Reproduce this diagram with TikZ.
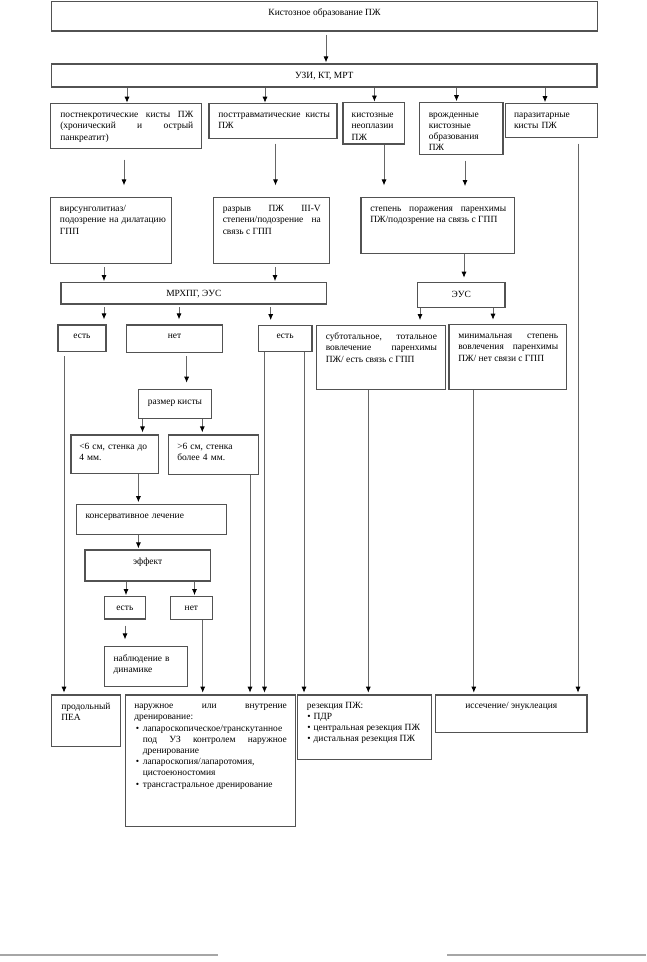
\documentclass[tikz,border=0pt]{standalone}
\usepackage{fontspec}
\setmainfont{Liberation Serif}
\usetikzlibrary{arrows.meta,fit}
\setlength{\parindent}{0pt}
\newcommand\bxat[5]{\node[bx, fit={(#2,#3)(#4,#5)}] (#1) {};}
% vertical connector: from node, x (px), start gap (px), to node, end gap (px)
\newcommand\va[5]{\draw[arr, shorten <={#3*0.75pt}, shorten >={#5*0.75pt}] (#1.south -| #2,0) -- (#4.north -| #2,0);}
\newcommand\bulA{\par\hangindent=6.4pt\hangafter=1\noindent\hbox to 6.4pt{\hskip1.2pt\textbullet\hss}}
\newcommand\bulB{\par\hangindent=5pt\hangafter=1\noindent\hbox to 5pt{\hskip0.3pt\textbullet\hss}}
\tikzset{
  bx/.style={draw=black!68, line width=0.95pt, inner sep=0pt},
  txt/.style={inner sep=0pt, font=\fontsize{7.1}{8.4}\selectfont, execute at begin node=\strut, anchor=north west},
  jtxt/.style={txt, align=justify},
  ltxt/.style={txt, align=left, text width=130pt},
  ctxt/.style={inner sep=0pt, font=\fontsize{7.1}{8.4}\selectfont, anchor=base},
  arr/.style={draw=black!60, line width=0.6pt, -{Latex[length=4.5pt,width=3.8pt,color=black]}},
  pageline/.style={draw=black!35, line width=0.8pt}
}
\begin{document}
\begin{tikzpicture}[x=0.75pt,y=-0.75pt]
\useasboundingbox (0,0) rectangle (646,962);
% boxes
\bxat{top}{51.5}{1.7}{597.5}{31}
\bxat{uzi}{51.5}{64}{597}{87}
\bxat{pn}{50.5}{103.8}{201.5}{148.3}
\bxat{pt}{209}{103.8}{337}{138.3}
\bxat{neo}{343}{102.7}{404.6}{144}
\bxat{vr}{419.5}{102.3}{503}{154.3}
\bxat{par}{505.5}{103.3}{597.5}{137.7}
\bxat{virs}{50.3}{197.7}{171.4}{263.3}
\bxat{razr}{213.8}{197.7}{329.6}{263.3}
\bxat{step}{361}{197.7}{514.2}{253.3}
\bxat{mrh}{61}{282.7}{326.7}{304}
\bxat{eus}{417.4}{282.3}{505.1}{307.3}
\bxat{est1}{58.1}{325}{105.9}{351.7}
\bxat{net}{126.5}{325}{222.5}{352.7}
\bxat{est2}{258.3}{325.7}{311.9}{351.7}
\bxat{sub}{316.4}{325.7}{445.4}{389.3}
\bxat{min}{449.1}{324.3}{566.5}{389.3}
\bxat{razm}{138.4}{389.3}{211.4}{418.3}
\bxat{lt6}{70.9}{435}{158.2}{473.3}
\bxat{gt6}{168.5}{435}{258.7}{474.3}
\bxat{kons}{76.6}{504.3}{226.6}{534.3}
\bxat{eff}{84.9}{550}{210.5}{581}
\bxat{est3}{104.2}{596.7}{145.4}{619}
\bxat{net2}{170.6}{596.7}{212.2}{619.3}
\bxat{nabl}{104.6}{646.7}{187.5}{686.7}
\bxat{prod}{51.5}{695}{120.3}{746.7}
\bxat{dren}{125.4}{695}{295.6}{826.7}
\bxat{rez}{297.6}{695}{431.6}{759.3}
\bxat{isse}{435.5}{695}{587.1}{732.7}
% texts
\node[ctxt] at (324.5,16) {Кистозное образование ПЖ};
\node[ctxt] at (324.3,78.5) {УЗИ, КТ, МРТ};
\node[jtxt, text width=99.75pt] at (60,109.5) {постнекротические кисты ПЖ\linebreak (хронический и острый\linebreak панкреатит)};
\node[jtxt, text width=83.7pt] at (218,109.5) {посттравматические кисты\linebreak ПЖ};
\node[ltxt] at (351.4,109.5) {кистозные\\неоплазии\\ПЖ};
\node[ltxt] at (428.5,109) {врожденные\\кистозные\\образования\\ПЖ};
\node[ltxt] at (513.8,109.5) {паразитарные\\кисты ПЖ};
\node[ltxt] at (59.7,203.5) {вирсунголитиаз/\\подозрение на дилатацию\\ГПП};
\node[jtxt, text width=73.5pt] at (222.5,203.5) {разрыв ПЖ III-V\linebreak степени/подозрение на\linebreak связь с ГПП};
\node[jtxt, text width=102pt] at (370,203.5) {степень поражения паренхимы\linebreak ПЖ/подозрение на связь с ГПП};
\node[ctxt] at (193.8,296.5) {МРХПГ, ЭУС};
\node[ctxt] at (461.2,297) {ЭУС};
\node[ctxt] at (82,338.5) {есть};
\node[ctxt] at (174.5,338.5) {нет};
\node[ctxt] at (285.1,338.5) {есть};
\node[jtxt, text width=83.4pt] at (325.5,331.5) {субтотальное, тотальное\linebreak вовлечение паренхимы\linebreak ПЖ/ есть связь с ГПП};
\node[jtxt, text width=75pt] at (458,330.5) {минимальная степень\linebreak вовлечения паренхимы\linebreak ПЖ/ нет связи с ГПП};
\node[ctxt] at (174.9,404) {размер кисты};
\node[ltxt] at (79,441.5) {<6 см, стенка до\\4 мм.};
\node[ltxt] at (177,441.5) {>6 см, стенка\\более 4 мм.};
\node[ltxt] at (85.3,510.5) {консервативное лечение};
\node[ctxt] at (147.7,564) {эффект};
\node[ctxt] at (124.8,610.5) {есть};
\node[ctxt] at (191.4,610.5) {нет};
\node[ltxt] at (113.3,653) {наблюдение в\\динамике};
\node[ltxt] at (61,701) {продольный\\ПЕА};
\node[jtxt, text width=114.5pt] at (134,700.5) {наружное или внутрение\linebreak дренирование:%
\bulA лапароскопическое/транскутанное\linebreak под УЗ контролем наружное\linebreak дренирование%
\bulA лапароскопия/лапаротомия,\linebreak цистоеюностомия%
\bulA трансгастральное дренирование\par};
\node[jtxt, text width=120pt] at (306.7,700) {резекция ПЖ:%
\bulB ПДР%
\bulB центральная резекция ПЖ%
\bulB дистальная резекция ПЖ\par};
\node[ctxt] at (511.3,708.5) {иссечение/ энуклеация};
% connectors
\va{top}{326}{3}{uzi}{1}
\va{uzi}{127}{0}{pn}{0.5}
\va{uzi}{265}{0}{pt}{0.5}
\va{uzi}{374.4}{0}{neo}{0.5}
\va{uzi}{456.5}{0}{vr}{0.5}
\va{uzi}{545}{0}{par}{0.5}
\va{pn}{124}{10.7}{virs}{11.7}
\va{pt}{275.5}{4.7}{razr}{11.7}
\va{neo}{384}{0}{step}{11.7}
\va{vr}{465}{5.7}{step}{11}
\va{virs}{104}{3.4}{mrh}{1}
\va{razr}{275}{3.4}{mrh}{1}
\va{step}{464}{0}{eus}{4}
\va{mrh}{104}{2.7}{est1}{5}
\va{mrh}{179}{2.7}{net}{5}
\va{mrh}{270.7}{2.7}{est2}{5}
\va{eus}{420}{0}{sub}{5}
\va{eus}{493}{0}{min}{4}
\va{net}{186.6}{3}{razm}{6}
\va{razm}{142.5}{0}{lt6}{2}
\va{razm}{202.3}{0}{gt6}{2}
\va{lt6}{138.4}{0}{kons}{1.5}
\va{kons}{138.4}{0}{eff}{1}
\va{eff}{126}{0}{est3}{1}
\va{eff}{194.5}{0}{net2}{1}
\va{est3}{125}{6}{nabl}{6.7}
\va{net2}{202.7}{0}{dren}{1.7}
\va{gt6}{250}{0}{dren}{1.7}
\va{est2}{264.5}{0}{dren}{1.7}
\va{est2}{304}{0}{rez}{1.7}
\va{est1}{64}{4}{prod}{1.7}
\va{sub}{368.3}{0}{rez}{1.7}
\va{min}{473.8}{0}{isse}{1.7}
\va{par}{578}{5.3}{isse}{1.7}
% page rules at the bottom
\draw[pageline] (0,955) -- (218,955);
\draw[pageline] (447,955) -- (646,955);
\end{tikzpicture}
\end{document}
